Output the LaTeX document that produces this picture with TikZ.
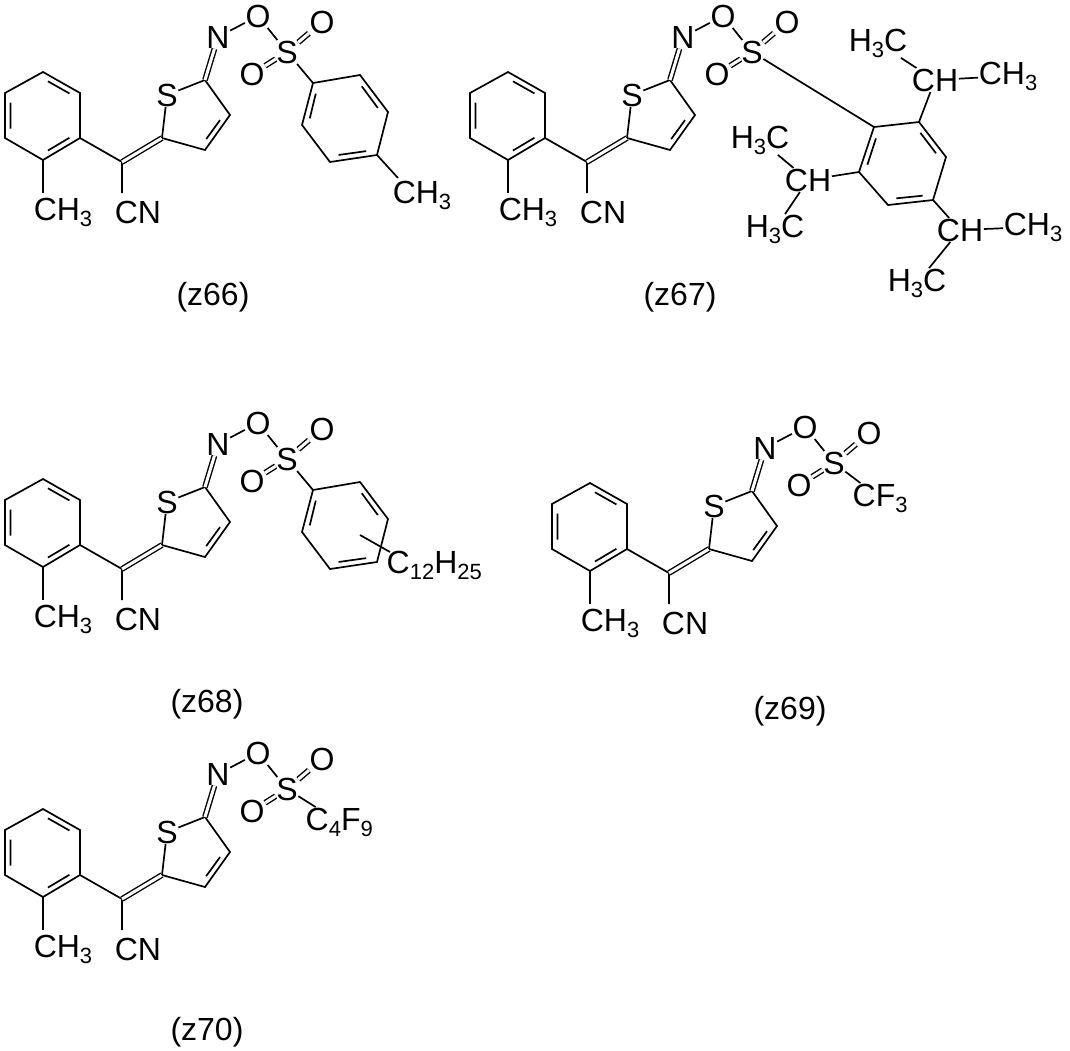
\documentclass[tikz,border=0pt]{standalone}
\usepackage{fontspec}
\setmainfont{Liberation Sans}
\usetikzlibrary{calc}
\newcommand\subs[1]{\raisebox{-0.35ex}{\fontsize{22}{22}\selectfont #1}}
\tikzset{
  bond/.style={line width=1.7pt},
  dbond/.style={line width=1.4pt,double=white,double distance=3pt},
  atom/.style={inner sep=0.5pt,font=\fontsize{32}{32}\selectfont},
  caption/.style={font=\fontsize{32}{32}\selectfont}
}
\newcommand\dblin[3]{%
  \path ($(#1)!.16!(#2)$) coordinate (tmpa) ($(#2)!.16!(#1)$) coordinate (tmpb);
  \draw[bond] ($(tmpa)!6pt!(#3)$) -- ($(tmpb)!6pt!(#3)$);}
\newcommand\core[1]{%
  \coordinate (#1b1) at (43,72); \coordinate (#1b2) at (80,93);
  \coordinate (#1b3) at (80,138); \coordinate (#1b4) at (43,160);
  \coordinate (#1b5) at (5,138); \coordinate (#1b6) at (5,93);
  \coordinate (#1bc) at (42,116);
  \draw[bond] (#1b1)--(#1b2)--(#1b3)--(#1b4)--(#1b5)--(#1b6)--cycle;
  \dblin{#1b1}{#1b2}{#1bc}\dblin{#1b3}{#1b4}{#1bc}\dblin{#1b5}{#1b6}{#1bc}
  \coordinate (#1m) at (43,193);
  \node[atom] (#1me) at (63,212) {CH\subs{3}};
  \draw[bond] (#1b4)--(#1m);
  \coordinate (#1c1) at (122,162); \coordinate (#1c2) at (162,138);
  \coordinate (#1cn) at (122,193);
  \node[atom] (#1CN) at (138,212) {CN};
  \draw[bond] (#1b3)--(#1c1)--(#1cn);
  \draw[dbond] (#1c1)--(#1c2);
  \node[atom] (#1S) at (167,95) {S};
  \coordinate (#1t5) at (205,80); \coordinate (#1t4) at (230,115);
  \coordinate (#1t3) at (205,150); \coordinate (#1tc) at (195,118);
  \draw[bond] (#1c2)--(#1S)--(#1t5)--(#1t4)--(#1t3)--(#1c2);
  \dblin{#1t4}{#1t3}{#1tc}
  \node[atom] (#1N) at (218,37) {N};
  \node[atom] (#1O1) at (258,16) {O};
  \node[atom] (#1S2) at (287,52) {S};
  \node[atom] (#1O2) at (322,22) {O};
  \node[atom] (#1O3) at (252,74) {O};
  \draw[dbond] (#1t5)--(#1N);
  \draw[bond] (#1N)--(#1O1)--(#1S2);
  \draw[dbond] (#1S2)--(#1O2); \draw[dbond] (#1S2)--(#1O3);
}
\newcommand\tolyl[1]{%
  \coordinate (#1r1) at (313,83); \coordinate (#1r2) at (360,75);
  \coordinate (#1r3) at (388,112); \coordinate (#1r4) at (377,155);
  \coordinate (#1r5) at (330,162); \coordinate (#1r6) at (302,125);
  \coordinate (#1rc) at (345,119);
  \draw[bond] (#1S2)--(#1r1);
  \draw[bond] (#1r1)--(#1r2)--(#1r3)--(#1r4)--(#1r5)--(#1r6)--cycle;
  \dblin{#1r6}{#1r1}{#1rc}\dblin{#1r2}{#1r3}{#1rc}\dblin{#1r4}{#1r5}{#1rc}
}
\begin{document}
\begin{tikzpicture}[x=1pt,y=-1pt]
\useasboundingbox (0,0) rectangle (1070,1050);
\fill[white] (0,0) rectangle (1070,1050);
% z66
\begin{scope}
\core{a}
\tolyl{a}
\coordinate (ame2) at (398,178);
\node[atom] (aMe) at (422,195) {CH\subs{3}};
\draw[bond] (ar4)--(ame2);
\node[caption] (lab66) at (213,297) {(z66)};
\end{scope}
% z67
\begin{scope}[shift={(465,0)}]
\core{b}
\end{scope}
\coordinate (q1) at (874,127); \coordinate (q2) at (919,122);
\coordinate (q3) at (946,157); \coordinate (q4) at (933,200);
\coordinate (q5) at (888,205); \coordinate (q6) at (859,172);
\coordinate (qc) at (903,164);
\draw[bond] (bS2)--(q1);
\draw[bond] (q1)--(q2)--(q3)--(q4)--(q5)--(q6)--cycle;
\dblin{q6}{q1}{qc}\dblin{q2}{q3}{qc}\dblin{q4}{q5}{qc}
\node[atom] (ch1) at (935,80) {CH};
\node[atom] (ch1a) at (878,43) {H\subs{3}C};
\node[atom] (ch1b) at (1008,76) {CH\subs{3}};
\draw[bond] (q2)--(ch1); \draw[bond] (ch1)--(ch1a); \draw[bond] (ch1)--(ch1b);
\node[atom] (ch2) at (808,180) {CH};
\node[atom] (ch2a) at (760,140) {H\subs{3}C};
\node[atom] (ch2b) at (775,229) {H\subs{3}C};
\draw[bond] (q6)--(ch2); \draw[bond] (ch2)--(ch2a); \draw[bond] (ch2)--(ch2b);
\node[atom] (ch3) at (960,230) {CH};
\node[atom] (ch3a) at (1033,227) {CH\subs{3}};
\node[atom] (ch3b) at (917,283) {H\subs{3}C};
\draw[bond] (q4)--(ch3); \draw[bond] (ch3)--(ch3a); \draw[bond] (ch3)--(ch3b);
\node[caption] (lab67) at (680,297) {(z67)};
% z68
\begin{scope}[shift={(0,407)}]
\core{c}
\tolyl{c}
\coordinate (cs) at (360,128);
\coordinate (ce) at (390,145);
\node[atom,anchor=west] (cR) at (386,158) {C\subs{12}H\subs{25}};
\draw[bond] (cs)--(ce);
\node[caption] (lab68) at (207,297) {(z68)};
\end{scope}
% z69
\begin{scope}[shift={(547,411)}]
\core{d}
\node[atom,anchor=west] (dR) at (305,87) {CF\subs{3}};
\draw[bond] (dS2)--(dR);
\node[caption] (lab69) at (243,300) {(z69)};
\end{scope}
% z70
\begin{scope}[shift={(0,737)}]
\core{e}
\node[atom,anchor=west] (eR) at (305,85) {C\subs{4}F\subs{9}};
\draw[bond] (eS2)--(eR);
\node[caption] (lab70) at (207,295) {(z70)};
\end{scope}
\end{tikzpicture}
\end{document}
